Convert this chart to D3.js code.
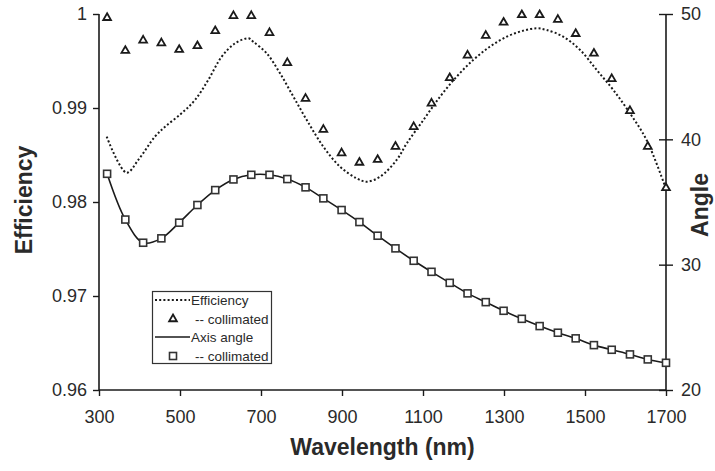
<!DOCTYPE html>
<html><head><meta charset="utf-8">
<script src="https://cdn.jsdelivr.net/npm/d3@7/dist/d3.min.js"></script>
<style>body{margin:0;background:#fff} svg{display:block}</style>
</head><body><svg id="c" width="715" height="471"></svg>
<script>
// ---- data ----
const collWavelengths = [320, 365, 409, 454, 498, 543, 587, 632, 676, 721, 765, 810, 854, 899, 943, 988,
  1032, 1077, 1121, 1166, 1210, 1255, 1299, 1344, 1388, 1433, 1477, 1522, 1566, 1611, 1655, 1700];
const effCollimated = [0.9996, 0.9961, 0.9972, 0.9969, 0.9962, 0.9966, 0.9982, 0.9998, 0.9998, 0.9980, 0.9948,
  0.9910, 0.9877, 0.9852, 0.9842, 0.9845, 0.9859, 0.9880, 0.9905, 0.9932, 0.9956, 0.9977, 0.9991, 0.9999,
  0.9999, 0.9994, 0.9979, 0.9958, 0.9931, 0.9897, 0.9859, 0.9815];
const angleCollimated = [37.25, 33.6, 31.75, 32.1, 33.35, 34.76, 35.95, 36.8, 37.17, 37.17, 36.83, 36.17, 35.29,
  34.36, 33.4, 32.31, 31.3, 30.31, 29.43, 28.55, 27.71, 27.01, 26.32, 25.68, 25.1, 24.57, 24.12, 23.58,
  23.21, 22.84, 22.44, 22.17];
const effCurveWavelengths = [319, 368, 397, 438, 463, 504, 537, 570, 603, 636, 669, 681, 714, 747, 780, 813,
  854, 895, 936, 961, 994, 1035, 1060, 1101, 1142, 1183, 1224, 1265, 1307, 1348, 1381, 1405, 1446, 1488,
  1529, 1570, 1611, 1652, 1700];
const effCurveValues = [0.98695, 0.98312, 0.98447, 0.98695, 0.9880, 0.98944, 0.99085, 0.9930, 0.99546, 0.99688,
  0.99741, 0.99705, 0.99582, 0.99369, 0.9912, 0.98872, 0.98588, 0.98376, 0.98252, 0.98216, 0.98269, 0.98447,
  0.98624, 0.98872, 0.9912, 0.99333, 0.99511, 0.99652, 0.99759, 0.99823, 0.99848, 0.9983, 0.99759, 0.99617,
  0.99404, 0.99191, 0.98944, 0.9866, 0.9814];
const xTicks = [300, 500, 700, 900, 1100, 1300, 1500, 1700];
const yLeftTicks = [0.96, 0.97, 0.98, 0.99, 1];
const yRightTicks = [20, 30, 40, 50];
const legendLabels = ["Efficiency", "-- collimated", "Axis angle", "-- collimated"];

// ---- layout ----
const W = 715, H = 471;
const m = {left: 99, right: 49, top: 14, bottom: 81};
const svg = d3.select("#c");
const x = d3.scaleLinear().domain([300, 1700]).range([m.left, W - m.right]);
const yL = d3.scaleLinear().domain([0.96, 1]).range([H - m.bottom, m.top]);
const yR = d3.scaleLinear().domain([20, 50]).range([H - m.bottom, m.top]);
const ink = "#1a1a1a", txt = "#2a2a2a";
const font = "'Liberation Sans', Arial, Helvetica, sans-serif";

// axes
const gx = svg.append("g").attr("transform", `translate(0,${H - m.bottom})`)
  .call(d3.axisBottom(x).tickValues(xTicks).tickSize(6).tickPadding(14).tickFormat(d3.format("d")));
const gl = svg.append("g").attr("transform", `translate(${m.left},0)`)
  .call(d3.axisLeft(yL).tickValues(yLeftTicks).tickSize(6).tickPadding(6)
    .tickFormat(d => d === 1 ? "1" : d3.format(".2f")(d)));
const gr = svg.append("g").attr("transform", `translate(${W - m.right},0)`)
  .call(d3.axisRight(yR).tickValues(yRightTicks).tickSize(7).tickPadding(8).tickFormat(d3.format("d")));
gr.selectAll(".tick line").attr("x1", -7);
[gx, gl, gr].forEach(g => {
  g.select(".domain").attr("stroke", ink).attr("stroke-width", 1.6);
  g.selectAll(".tick line").attr("stroke", ink).attr("stroke-width", 1.4);
  g.selectAll(".tick text").attr("fill", txt).attr("font-family", font).attr("font-size", 18);
});
gx.select(".domain").attr("d", `M${m.left},0H${W - m.right}`);
gl.select(".domain").attr("d", `M0,${m.top}V${H - m.bottom}`);
gr.select(".domain").attr("d", `M0,${m.top}V${H - m.bottom}`);

// titles
svg.append("text").attr("x", (m.left + W - m.right) / 2).attr("y", 455)
  .attr("text-anchor", "middle").attr("font-family", font).attr("font-weight", "bold")
  .attr("font-size", 23).attr("fill", txt).text("Wavelength (nm)");
svg.append("text").attr("transform", "translate(32,200) rotate(-90)")
  .attr("text-anchor", "middle").attr("font-family", font).attr("font-weight", "bold")
  .attr("font-size", 23).attr("fill", txt).text("Efficiency");
svg.append("text").attr("transform", "translate(708,205) rotate(-90)")
  .attr("text-anchor", "middle").attr("font-family", font).attr("font-weight", "bold")
  .attr("font-size", 23).attr("fill", txt).text("Angle");

// dotted efficiency curve
const effLine = d3.line().x((d, i) => x(effCurveWavelengths[i])).y(d => yL(d)).curve(d3.curveCatmullRom.alpha(0.5));
svg.append("path").attr("d", effLine(effCurveValues)).attr("fill", "none")
  .attr("stroke", ink).attr("stroke-width", 2).attr("stroke-dasharray", "2,2.2");

// angle solid line
const angLine = d3.line().x((d, i) => x(collWavelengths[i])).y(d => yR(d)).curve(d3.curveCatmullRom.alpha(0.5));
svg.append("path").attr("d", angLine(angleCollimated)).attr("fill", "none")
  .attr("stroke", ink).attr("stroke-width", 1.6);

// markers
const tri = d3.symbol().type(d3.symbolTriangle).size(26);
svg.append("g").selectAll("path").data(effCollimated).join("path")
  .attr("transform", (d, i) => `translate(${x(collWavelengths[i])},${yL(d)})`)
  .attr("d", tri).attr("fill", "#fff").attr("stroke", ink).attr("stroke-width", 1.8);
svg.append("g").selectAll("rect").data(angleCollimated).join("rect")
  .attr("x", (d, i) => x(collWavelengths[i]) - 3.5).attr("y", d => yR(d) - 3.5)
  .attr("width", 7).attr("height", 7).attr("fill", "#fff").attr("stroke", "#333").attr("stroke-width", 1.6);

// legend
const lg = svg.append("g");
lg.append("rect").attr("x", 152.5).attr("y", 291.5).attr("width", 119).attr("height", 72)
  .attr("fill", "#fff").attr("stroke", "#333").attr("stroke-width", 1.2);
const rowY = [300, 319, 337, 356];
lg.append("line").attr("x1", 155).attr("x2", 190).attr("y1", rowY[0]).attr("y2", rowY[0])
  .attr("stroke", ink).attr("stroke-width", 2).attr("stroke-dasharray", "2,2.2");
lg.append("path").attr("transform", `translate(173,${rowY[1]})`).attr("d", tri)
  .attr("fill", "#fff").attr("stroke", ink).attr("stroke-width", 1.8);
lg.append("line").attr("x1", 155).attr("x2", 190).attr("y1", rowY[2]).attr("y2", rowY[2])
  .attr("stroke", ink).attr("stroke-width", 1.6);
lg.append("rect").attr("x", 169.5).attr("y", rowY[3] - 3.5).attr("width", 7).attr("height", 7)
  .attr("fill", "#fff").attr("stroke", "#333").attr("stroke-width", 1.6);
const lx = [191, 195, 191, 195];
legendLabels.forEach((t, i) => {
  lg.append("text").attr("x", lx[i]).attr("y", rowY[i]).attr("dy", "0.35em")
    .attr("font-family", font).attr("font-size", 13.5).attr("fill", txt).text(t);
});
</script></body></html>
